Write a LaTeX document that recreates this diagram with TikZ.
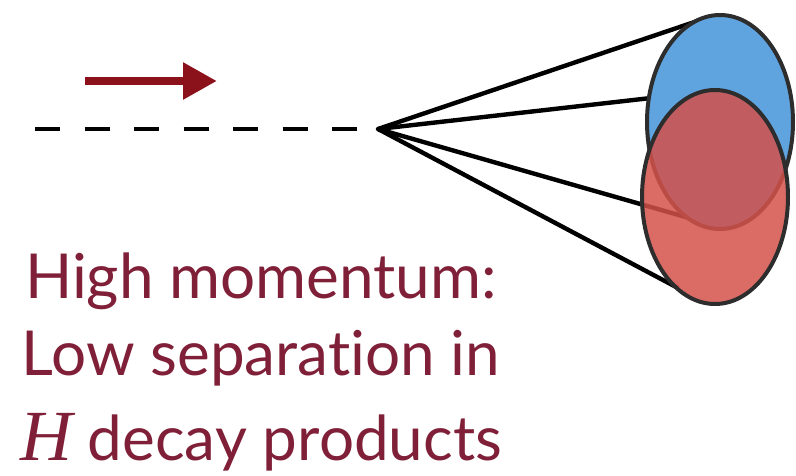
\documentclass[tikz,border=0pt]{standalone}
\usepackage{fontspec}
\setmainfont[Ligatures={NoCommon,NoRare}]{Lato}
\newfontfamily\mathlike{Liberation Serif}
\usetikzlibrary{shapes.geometric,arrows.meta}
\definecolor{arrowred}{RGB}{139,18,27}
\definecolor{txtred}{RGB}{128,32,56}
\definecolor{blobblue}{RGB}{95,163,223}
\definecolor{blobred}{RGB}{211,81,74}
\definecolor{rim}{RGB}{45,45,45}
\tikzset{
  x=1pt,y=1pt,
  conel/.style={line width=4.4pt,black,line cap=butt},
  blob/.style={ellipse,draw=rim,line width=4pt,minimum width=146pt,minimum height=214pt,inner sep=0pt},
  lbl/.style={text=txtred,font=\fontsize{62}{77}\selectfont,anchor=base,inner sep=0pt}
}
\begin{document}
\begin{tikzpicture}
\useasboundingbox (0,0) rectangle (796,-475);
% ellipse nodes placed first (invisible) so lines can use their anchors
\path node[blob,draw=none,outer sep=-1pt] (blue) at (720,-122) {}
      node[blob,draw=none,outer sep=-1pt] (red) at (715,-197) {};
\coordinate (dstart) at (35,-129);
\coordinate (apex) at (378,-129);
\coordinate (astart) at (85,-81);
\coordinate (aend) at (217,-81);
% cone lines (under the ellipses)
\draw[conel,line cap=round] (apex) -- (blue.97);
\draw[conel] (apex) -- (red.92);
\draw[conel] (apex) -- (blue.272);
\draw[conel] (apex) -- (red.248);
% ellipses
\node[blob,fill=blobblue] at (blue.center) {};
\node[blob,fill=blobred,fill opacity=0.85] at (red.center) {};
% dashed line
\draw[line width=4.5pt,dash pattern=on 25pt off 24.5pt] (dstart) -- (apex);
% momentum arrow
\draw[arrowred,line width=8.5pt,-{Triangle[length=34pt,width=35pt]}] (astart) -- (aend);
% text
\node[lbl] (l1) at (261,-298) {High momentum:};
\node[lbl] (l2) at (261,-375) {Low separation in};
\node[lbl] (l3) at (261,-460) {{\mathlike\itshape\fontsize{72}{77}\selectfont H} decay products};
\end{tikzpicture}
\end{document}
